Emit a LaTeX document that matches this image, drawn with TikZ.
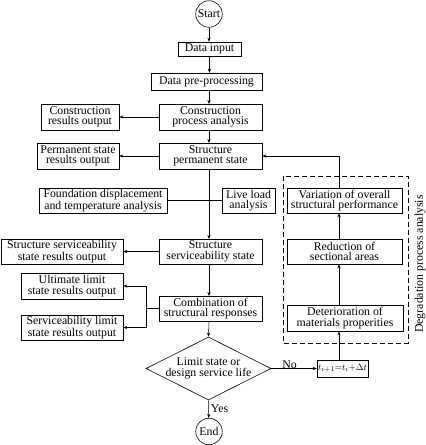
\documentclass[tikz,border=0pt]{standalone}
\usepackage{fontspec}
\setmainfont{Liberation Serif}
\usepackage{tikz}
\usetikzlibrary{calc,arrows.meta,shapes}

\tikzset{
	box/.style={draw,line width=0.6pt,inner sep=0pt,align=center,font=\fontsize{11.8}{10.6}\selectfont},
	term/.style={draw,circle,line width=0.6pt,inner sep=0pt,minimum size=26.5pt,font=\fontsize{11.8}{10.6}\selectfont},
	arr/.style={line width=0.5pt,-{Stealth[length=4pt,width=3.2pt]}},
	ln/.style={line width=0.5pt},
}

\begin{document}
\begin{tikzpicture}[x=1pt,y=-1pt]

\useasboundingbox (0,0) rectangle (426,445);

% main column
\node[term] (start) at (209,14) {Start};
\node[box,minimum width=63pt,minimum height=14pt] (input) at (209.5,49) {Data input};
\node[box,minimum width=111pt,minimum height=17pt] (prep) at (206.5,81.5) {Data pre-processing};
\node[box,minimum width=103pt,minimum height=26pt] (cpa) at (210.5,117) {Construction\\process analysis};
\node[box,minimum width=103pt,minimum height=26pt] (sps) at (210.5,156) {Structure\\permanent state};
\node[box,minimum width=103pt,minimum height=25pt] (sss) at (210.5,251.5) {Structure\\serviceability state};
\node[box,minimum width=103pt,minimum height=25pt] (comb) at (210.5,308.5) {Combination of\\structural responses};
\node[draw,diamond,line width=0.6pt,inner sep=0pt,minimum width=125pt,minimum height=63pt] (lim) at (208.5,368.5) {};
\node[box,draw=none] (limtext) at (lim) {Limit state or\\design service life};
\node[term] (end) at (209,431.5) {End};

% outputs on the left
\node[box,minimum width=78pt,minimum height=26pt] (cro) at (80,117) {Construction\\results output};
\node[box,minimum width=82pt,minimum height=26pt] (psro) at (78,156) {Permanent state\\results output};
\node[box,minimum width=128pt,minimum height=25pt] (fdta) at (103,200.5) {Foundation displacement\\and temperature analysis};
\node[box,minimum width=53pt,minimum height=25pt] (lla) at (248.5,200.5) {Live load\\analysis};
\node[box,minimum width=122pt,minimum height=25pt] (sssro) at (62,251.5) {Structure serviceability\\state results output};
\node[box,minimum width=102pt,minimum height=26pt] (ulsro) at (72,286) {Ultimate limit\\state results output};
\node[box,minimum width=102pt,minimum height=25pt] (slsro) at (72,327.5) {Serviceability limit\\state results output};

% degradation column
\draw[line width=0.7pt,dash pattern=on 5pt off 3pt] (283,176) rectangle (408,343);
\node[box,draw=none,rotate=90] (dpa) at (420,264) {Degradation process analysis};
\node[box,minimum width=115pt,minimum height=25pt] (var) at (344.5,200.5) {Variation of overall\\structural performance};
\node[box,minimum width=115pt,minimum height=25pt] (red) at (344.5,251.5) {Reduction of\\sectional areas};
\node[box,minimum width=116pt,minimum height=26pt] (det) at (345,318) {Deterioration of\\materials properities};
\node[box,minimum width=51pt,minimum height=17pt,font=\fontsize{9.5}{10}\selectfont] (tnext) at (342.5,368.5) {$t_{i+1}{=}t_i{+}\Delta t$};
\coordinate (rcol) at (339,0);
\coordinate (split) at (146,308.5);

% connectors
\draw[arr] (start) -- (start |- input.north);
\draw[arr] (input) -- (input |- prep.north);
\draw[arr] (209,90) -- (209,104);
\draw[arr] (209,130) -- (209,143);
\draw[arr] (209,169) -- (209,239);
\draw[arr] (209,264) -- (209,296);
\draw[arr] (209,321) -- (lim.north);
\draw[arr] (lim.south) -- (end) node[pos=0.45,right,box,draw=none,xshift=2pt] {Yes};

\draw[arr] (cpa.west) -- (cro.east);
\draw[arr] (sps.west) -- (psro.east);
\draw[ln] (fdta.east) -- (fdta.east -| sps);
\draw[ln] (lla.west) -- (lla.west -| sps);
\draw[arr] (sss.west) -- (sssro.east);
\draw[ln] (comb.west) -- (split);
\draw[arr] (split) |- (ulsro.east);
\draw[arr] (split) |- (slsro.east);

\draw[arr] (lim.east) -- (tnext.west) node[pos=0.4,above,box,draw=none] {No};
\draw[arr] (tnext.north -| rcol) -- (det.south -| rcol);
\draw[arr] (det.north -| rcol) -- (red.south -| rcol);
\draw[arr] (red.north -| rcol) -- (var.south -| rcol);
\draw[arr] (var.north -| rcol) |- (sps.east);

\end{tikzpicture}
\end{document}
